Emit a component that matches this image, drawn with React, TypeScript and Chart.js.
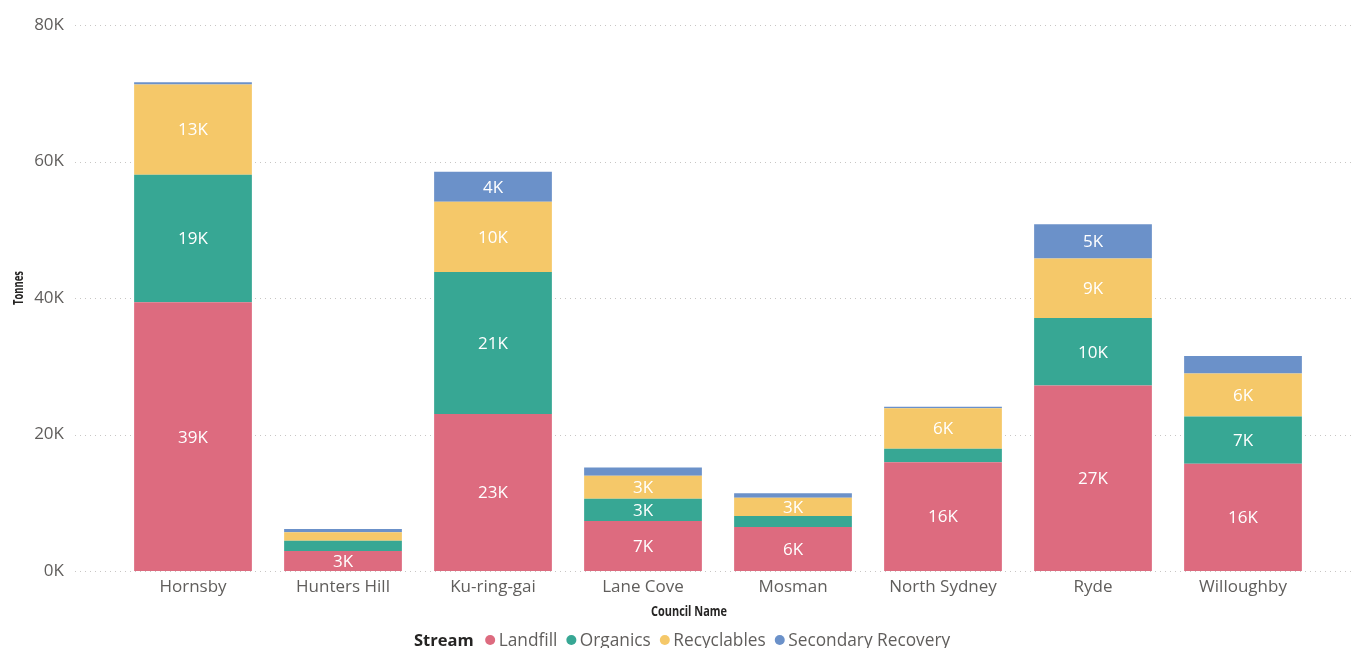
import React, { useEffect, useRef } from 'react';
import { Chart, registerables } from 'chart.js';

Chart.register(...registerables);

const categories = ['Hornsby', 'Hunters Hill', 'Ku-ring-gai', 'Lane Cove', 'Mosman', 'North Sydney', 'Ryde', 'Willoughby'];
const landfill = [39360, 2930, 22990, 7330, 6450, 15940, 27180, 15700];
const organics = [18690, 1510, 20830, 3270, 1620, 1960, 9890, 6940];
const recyclables = [13250, 1240, 10270, 3340, 2680, 5960, 8700, 6300];
const secondary = [300, 480, 4400, 1210, 650, 200, 5030, 2550];
const seriesNames = ['Landfill', 'Organics', 'Recyclables', 'Secondary Recovery'];
const seriesColors = ['#DD6B7F', '#37A794', '#F5C869', '#6B91C9'];
const yTicks = [0, 20000, 40000, 60000, 80000];
const legendTitle = 'Stream';
const xTitle = 'Council Name';
const yTitle = 'Tonnes';

const FONT = '"Segoe UI", "Open Sans", "Noto Sans", sans-serif';

const fmtK = (v: number) => `${Math.round(v / 1000)}K`;

const customPlugin = {
  id: 'pbiCustom',
  beforeDatasetsDraw(chart: any) {
    const { ctx, chartArea, scales } = chart;
    const y = scales.y;
    ctx.save();
    ctx.strokeStyle = '#C8C6C4';
    ctx.lineWidth = 1;
    ctx.setLineDash([1, 4]);
    yTicks.forEach((t) => {
      const py = Math.round(y.getPixelForValue(t)) + 0.5;
      ctx.beginPath();
      ctx.moveTo(chartArea.left - 43, py);
      ctx.lineTo(chartArea.right + 34, py);
      ctx.stroke();
    });
    ctx.restore();
  },
  afterDatasetsDraw(chart: any) {
    const { ctx, chartArea } = chart;
    ctx.save();
    ctx.beginPath();
    ctx.rect(chartArea.left, chartArea.top, chartArea.right - chartArea.left, chartArea.bottom - chartArea.top);
    ctx.clip();
    ctx.fillStyle = '#FFFFFF';
    ctx.font = `17px ${FONT}`;
    ctx.textAlign = 'center';
    ctx.textBaseline = 'middle';
    chart.data.datasets.forEach((ds: any, di: number) => {
      const meta = chart.getDatasetMeta(di);
      meta.data.forEach((el: any, i: number) => {
        const h = el.base - el.y;
        if (h >= 18) {
          ctx.fillText(fmtK(ds.data[i]), el.x, (el.y + el.base) / 2 + 1);
        }
      });
    });
    ctx.restore();
  },
  afterDraw(chart: any) {
    const { ctx, chartArea } = chart;
    ctx.save();
    // axis titles
    ctx.fillStyle = '#252423';
    ctx.font = `bold 15px ${FONT}`;
    ctx.textAlign = 'center';
    ctx.textBaseline = 'middle';
    ctx.fillText(xTitle, chartArea.left + 571, chartArea.bottom + 41, 76);
    ctx.save();
    ctx.translate(19, chartArea.top + 263);
    ctx.rotate(-Math.PI / 2);
    ctx.font = `bold 14px ${FONT}`;
    ctx.fillText(yTitle, 0, 0, 34);
    ctx.restore();

    // legend
    const baseY = chartArea.bottom + 75;
    let x = 414;
    ctx.textAlign = 'left';
    ctx.textBaseline = 'alphabetic';
    ctx.font = `bold 16.5px ${FONT}`;
    ctx.fillStyle = '#252423';
    ctx.fillText(legendTitle, x, baseY);
    x += ctx.measureText(legendTitle).width + 16.5;
    ctx.font = `17.3px ${FONT}`;
    seriesNames.forEach((name, i) => {
      ctx.fillStyle = seriesColors[i];
      ctx.beginPath();
      ctx.arc(x, baseY - 6, 5, 0, Math.PI * 2);
      ctx.fill();
      ctx.fillStyle = '#605E5C';
      const tx = x + 8.5;
      ctx.fillText(name, tx, baseY);
      x = tx + ctx.measureText(name).width + 14;
    });
    ctx.restore();
  },
};

export default function App() {
  const ref = useRef<HTMLCanvasElement | null>(null);
  useEffect(() => {
    if (!ref.current) return;
    const datasets = [landfill, organics, recyclables, secondary].map((d, i) => ({
      label: seriesNames[i],
      data: d,
      backgroundColor: seriesColors[i],
      borderWidth: 0,
      categoryPercentage: 1,
      barPercentage: 0.785,
    }));
    const chart = new Chart(ref.current, {
      type: 'bar',
      data: { labels: categories, datasets },
      options: {
        responsive: false,
        animation: false,
        layout: { padding: { top: 25, right: 38, bottom: 27, left: 0 } },
        plugins: {
          legend: { display: false },
          tooltip: { enabled: false },
        },
        scales: {
          x: {
            stacked: true,
            grid: { display: false, drawTicks: false },
            border: { display: false },
            ticks: { color: '#605E5C', font: { family: FONT, size: 17 }, padding: 6, maxRotation: 0 },
            afterFit: (s: any) => { s.height = 50; },
          },
          y: {
            stacked: true,
            min: 0,
            max: 80000,
            grid: { display: false, drawTicks: true, tickLength: 50 },
            border: { display: false },
            ticks: {
              stepSize: 20000,
              color: '#605E5C',
              font: { family: FONT, size: 17 },
              padding: 4,
              callback: (v: any) => fmtK(Number(v)),
            },
            afterFit: (s: any) => { s.width = 118; },
          },
        },
      },
      plugins: [customPlugin],
    });
    return () => chart.destroy();
  }, []);
  return (
    <div style={{ position: 'fixed', left: 0, top: 0, width: 1356, height: 648, background: '#fff' }}>
      <canvas ref={ref} width={1356} height={648} />
    </div>
  );
}
